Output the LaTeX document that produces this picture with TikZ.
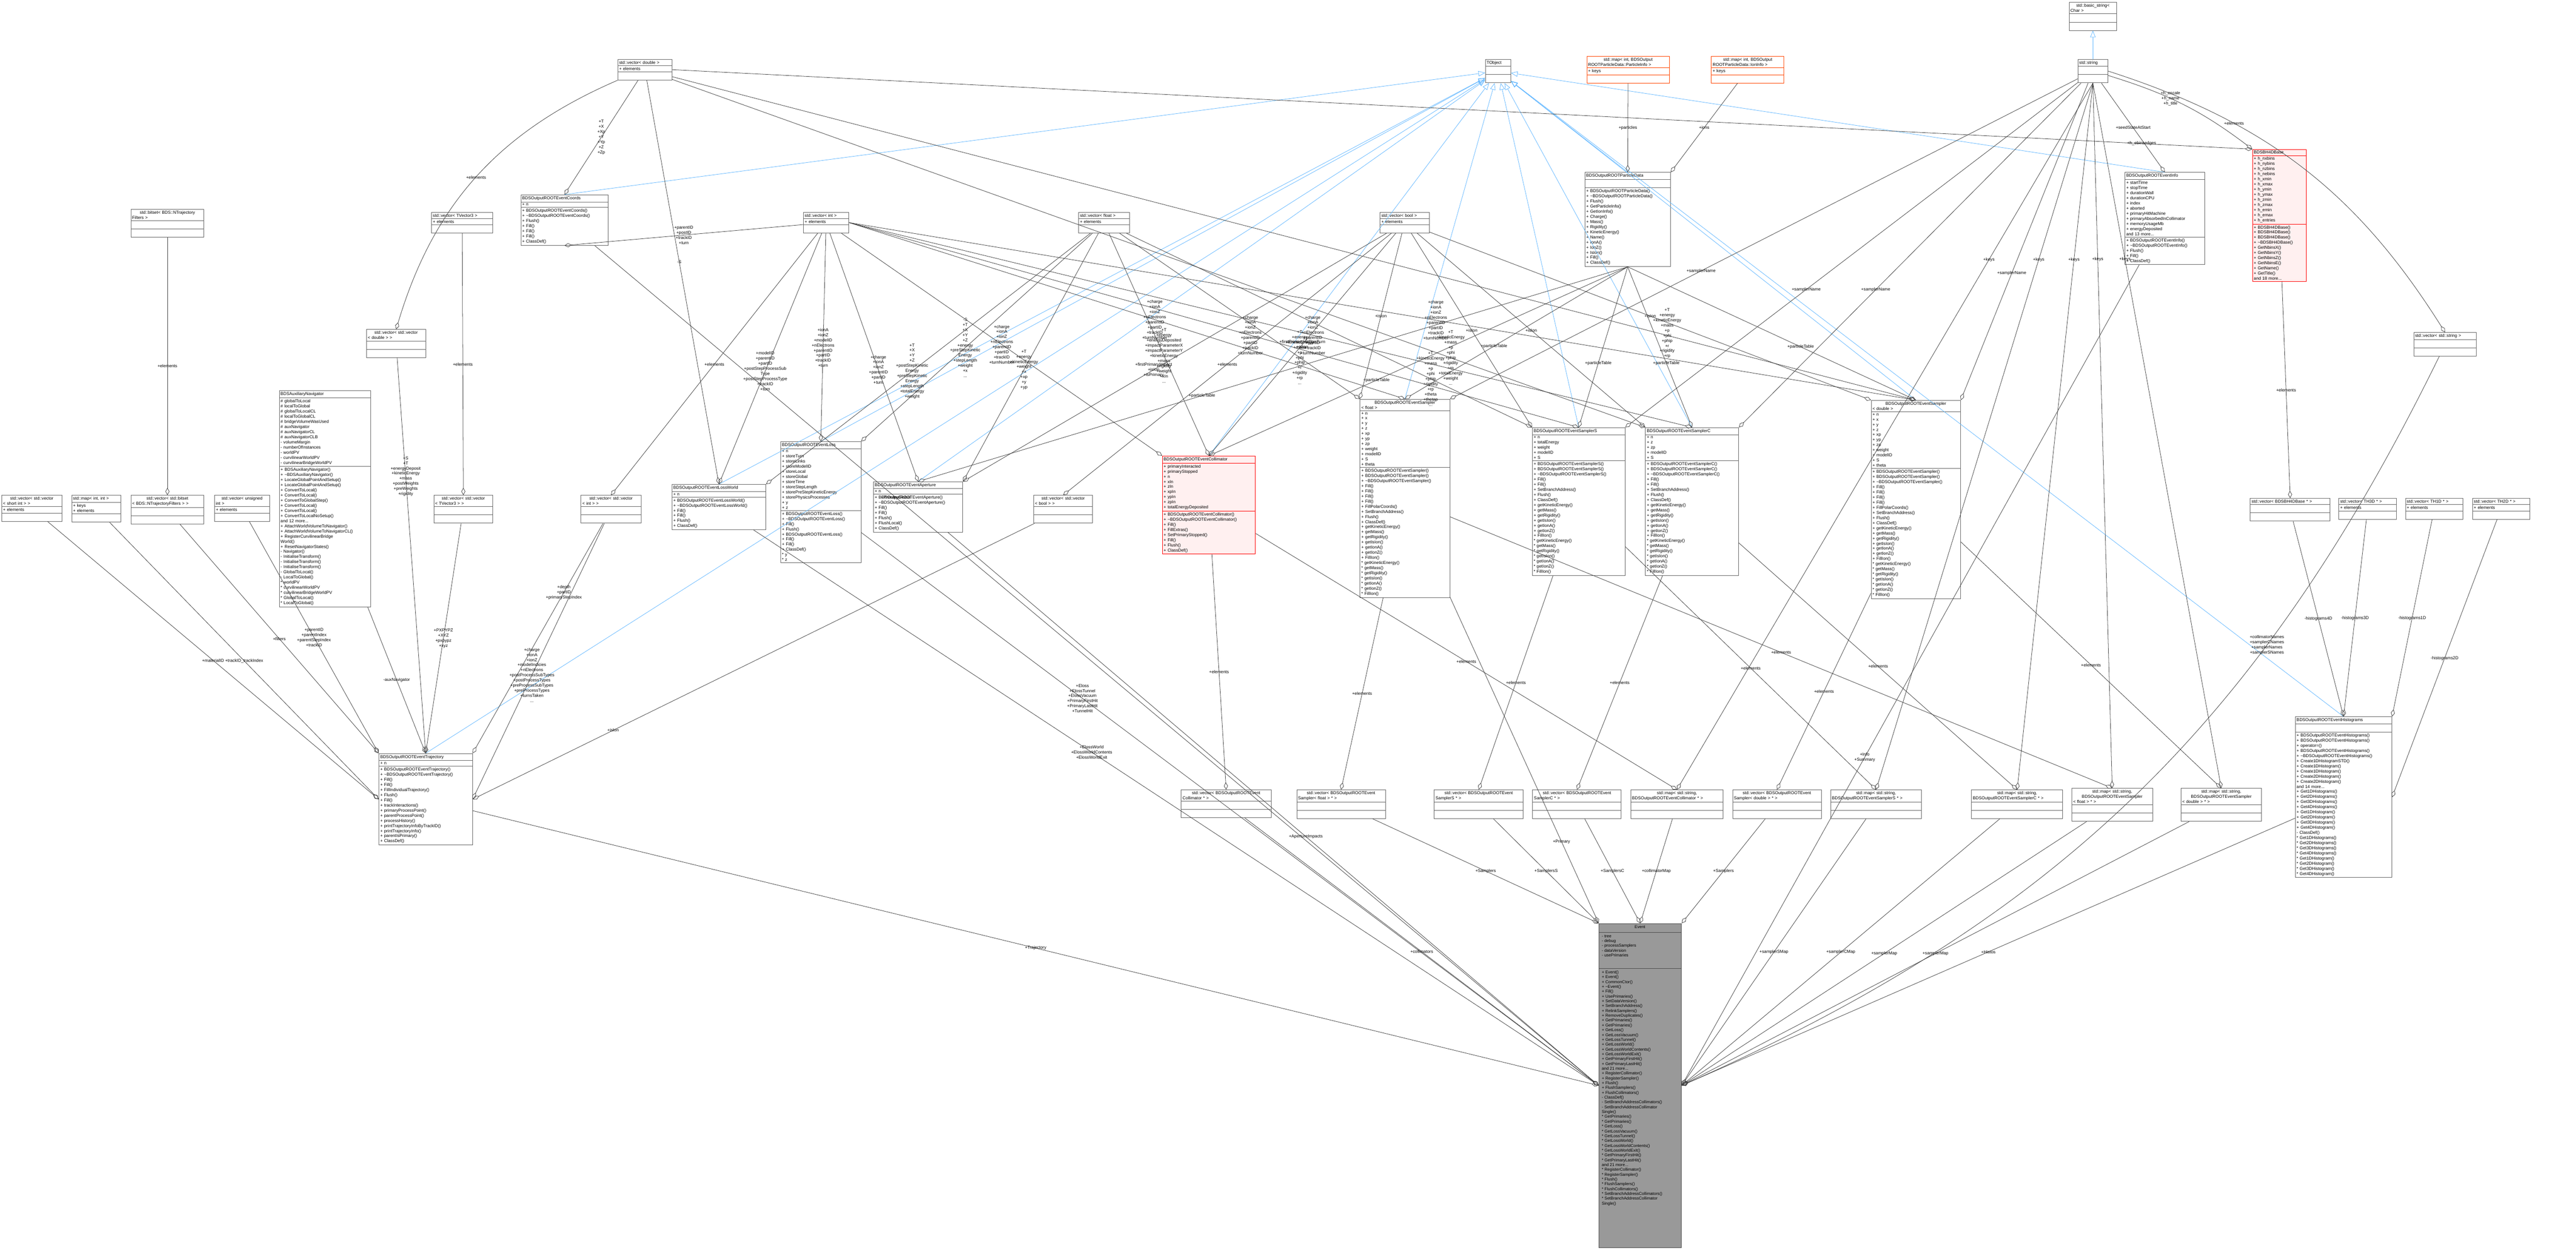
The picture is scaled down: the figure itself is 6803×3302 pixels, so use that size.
\documentclass[tikz,border=0pt]{standalone}
\usepackage{fontspec}
\setmainfont{Liberation Sans}
\usetikzlibrary{shapes.multipart,arrows.meta}
\definecolor{inh}{HTML}{63B8FF}
\definecolor{redb}{HTML}{FF0000}
\definecolor{redf}{HTML}{FFF0F0}
\definecolor{orb}{HTML}{FF4500}
\definecolor{evf}{HTML}{999999}
\newcommand\emp{\mbox{}\\\mbox{}}
\newcommand\tl{\textasciitilde}
\newcommand\cl[8]{\node[cbox,anchor=north west,#8,text width=\dimexpr0.1mm*#4-2pt\relax] (#1) at (#2,#3) {\centering #5\nodepart{two}\raggedright #6\nodepart{three}\raggedright #7};}
\tikzset{
 cbox/.style={rectangle split,rectangle split parts=3,draw=black!60,line width=0.35pt,fill=white,inner sep=1pt,align=left,font=\fontsize{3.2}{3.85}\selectfont},
 redc/.style={draw=redb,fill=redf},
 orc/.style={draw=orb},
 plain/.style={},
 evtxt/.style={anchor=north west,inner sep=1pt,align=left,font=\fontsize{3.1}{3.62}\selectfont},
 agg/.style={draw=black!75,line width=0.3pt,-{Diamond[open,length=5.5pt,width=3pt]}},
 inhe/.style={draw=inh,line width=0.3pt,-{Triangle[open,length=5pt,width=4pt]}},
 lbl/.style={font=\fontsize{3.2}{3.85}\selectfont,align=center,inner sep=0.5pt,fill=none},
}
\begin{document}
\begin{tikzpicture}[x=0.1mm,y=-0.1mm]
\fill[white] (0,0) rectangle (6803,3302);
\useasboundingbox (0,0) rectangle (6803,3302);
% top row
\cl{vecdouble}{1631}{156}{143}{std::vector< double >}{+ elements}{\emp}{plain}
\cl{tobject}{3922}{156}{67}{TObject}{\emp}{\emp}{plain}
\cl{mapPI}{4190}{148}{218}{std::map< int, BDSOutput\\ROOTParticleData::ParticleInfo >}{+ keys}{\emp}{orc}
\cl{mapII}{4519}{148}{192}{std::map< int, BDSOutput\\ROOTParticleData::IonInfo >}{+ keys}{\emp}{orc}
\cl{basicstr}{5464}{6}{125}{std::basic\_string<\\ Char >}{\emp}{\emp}{plain}
\cl{string}{5487}{156}{79}{std::string}{\emp}{\emp}{plain}
\cl{coords}{1375}{514}{230}{BDSOutputROOTEventCoords}{+ n}{+ BDSOutputROOTEventCoords()\\+ \tl BDSOutputROOTEventCoords()\\+ Flush()\\+ Fill()\\+ Fill()\\+ Fill()\\+ ClassDef()}{plain}
\cl{bitset}{345}{552}{193}{std::bitset< BDS::NTrajectory\\Filters >}{\emp}{\emp}{plain}
\cl{vecTV}{1139}{560}{162}{std::vector< TVector3 >}{+ elements}{\emp}{plain}
\cl{vecint}{2121}{560}{120}{std::vector< int >}{+ elements}{\emp}{plain}
\cl{vecfloat}{2848}{560}{135}{std::vector< float >}{+ elements}{\emp}{plain}
\cl{vecbool}{3644}{560}{130}{std::vector< bool >}{+ elements}{\emp}{plain}
\cl{pdata}{4185}{455}{226}{BDSOutputROOTParticleData}{\emp}{+ BDSOutputROOTParticleData()\\+ \tl BDSOutputROOTParticleData()\\+ Flush()\\+ GetParticleInfo()\\+ GetIonInfo()\\+ Charge()\\+ Mass()\\+ Rigidity()\\+ KineticEnergy()\\+ Name()\\+ IonA()\\+ IonZ()\\+ IsIon()\\+ Fill()\\+ ClassDef()}{plain}
\cl{einfo}{5611}{455}{211}{BDSOutputROOTEventInfo}{+ startTime\\+ stopTime\\+ durationWall\\+ durationCPU\\+ index\\+ aborted\\+ primaryHitMachine\\+ primaryAbsorbedInCollimator\\+ memoryUsageMb\\+ energyDeposited\\and 13 more...}{+ BDSOutputROOTEventInfo()\\+ \tl BDSOutputROOTEventInfo()\\+ Flush()\\+ Fill()\\+ ClassDef()}{plain}
\cl{bh}{5948}{394}{142}{BDSBH4DBase}{+ h\_nxbins\\+ h\_nybins\\+ h\_nzbins\\+ h\_nebins\\+ h\_xmin\\+ h\_xmax\\+ h\_ymin\\+ h\_ymax\\+ h\_zmin\\+ h\_zmax\\+ h\_emin\\+ h\_emax\\+ h\_entries}{+ BDSBH4DBase()\\+ BDSBH4DBase()\\+ BDSBH4DBase()\\+ \tl BDSBH4DBase()\\+ GetNbinsX()\\+ GetNbinsY()\\+ GetNbinsZ()\\+ GetNbinsE()\\+ GetName()\\+ GetTitle()\\and 18 more...}{redc}
\cl{vecstr}{6374}{878}{165}{std::vector< std::string >}{\emp}{\emp}{plain}
\cl{vvdouble}{967}{870}{157}{std::vector< std::vector\\< double > >}{\emp}{\emp}{plain}
\cl{aux}{737}{1032}{241}{BDSAuxiliaryNavigator}{\# globalToLocal\\\# localToGlobal\\\# globalToLocalCL\\\# localToGlobalCL\\\# bridgeVolumeWasUsed\\\# auxNavigator\\\# auxNavigatorCL\\\# auxNavigatorCLB\\- volumeMargin\\- numberOfInstances\\- worldPV\\- curvilinearWorldPV\\- curvilinearBridgeWorldPV}{+ BDSAuxiliaryNavigator()\\+ \tl BDSAuxiliaryNavigator()\\+ LocateGlobalPointAndSetup()\\+ LocateGlobalPointAndSetup()\\+ ConvertToLocal()\\+ ConvertToLocal()\\+ ConvertToGlobalStep()\\+ ConvertToLocal()\\+ ConvertToLocal()\\+ ConvertToLocalNoSetup()\\and 12 more...\\+ AttachWorldVolumeToNavigator()\\+ AttachWorldVolumeToNavigatorCL()\\+ RegisterCurvilinearBridge\\World()\\+ ResetNavigatorStates()\\- Navigator()\\- InitialiseTransform()\\- InitialiseTransform()\\- InitialiseTransform()\\- GlobalToLocal()\\- LocalToGlobal()\\{*} worldPV\\{*} curvilinearWorldPV\\{*} curvilinearBridgeWorldPV\\{*} GlobalToLocal()\\{*} LocalToGlobal()}{plain}
\cl{vvshort}{4}{1308}{159}{std::vector< std::vector\\< short int > >}{+ elements}{\emp}{plain}
\cl{mapii}{189}{1308}{130}{std::map< int, int >}{+ keys\\+ elements}{\emp}{plain}
\cl{vbitset}{345}{1308}{193}{std::vector< std::bitset\\< BDS::NTrajectoryFilters > >}{\emp}{\emp}{plain}
\cl{vuint}{566}{1308}{145}{std::vector< unsigned\\ int >}{+ elements}{\emp}{plain}
\cl{vvTV}{1145}{1308}{156}{std::vector< std::vector\\< TVector3 > >}{\emp}{\emp}{plain}
\cl{vvint}{1534}{1308}{158}{std::vector< std::vector\\< int > >}{\emp}{\emp}{plain}
\cl{lossw}{1774}{1279}{248}{BDSOutputROOTEventLossWorld}{+ n}{+ BDSOutputROOTEventLossWorld()\\+ \tl BDSOutputROOTEventLossWorld()\\+ Fill()\\+ Fill()\\+ Flush()\\+ ClassDef()}{plain}
\cl{loss}{2061}{1166}{212}{BDSOutputROOTEventLoss}{+ n\\+ storeTurn\\+ storeLinks\\+ storeModelID\\+ storeLocal\\+ storeGlobal\\+ storeTime\\+ storeStepLength\\+ storePreStepKineticEnergy\\+ storePhysicsProcesses\\+ y\\+ z}{+ BDSOutputROOTEventLoss()\\+ \tl BDSOutputROOTEventLoss()\\+ Fill()\\+ Flush()\\+ BDSOutputROOTEventLoss()\\+ Fill()\\+ Fill()\\+ ClassDef()\\{*} y\\{*} z}{plain}
\cl{aper}{2306}{1272}{236}{BDSOutputROOTEventAperture}{+ n}{+ BDSOutputROOTEventAperture()\\+ \tl BDSOutputROOTEventAperture()\\+ Fill()\\+ Fill()\\+ Flush()\\+ FlushLocal()\\+ ClassDef()}{plain}
\cl{vvbool}{2729}{1308}{156}{std::vector< std::vector\\< bool > >}{\emp}{\emp}{plain}
\cl{coll}{3069}{1204}{246}{BDSOutputROOTEventCollimator}{+ primaryInteracted\\+ primaryStopped\\+ n\\+ xIn\\+ zIn\\+ xpIn\\+ ypIn\\+ zpIn\\+ totalEnergyDeposited}{+ BDSOutputROOTEventCollimator()\\+ \tl BDSOutputROOTEventCollimator()\\+ Fill()\\+ FillExtras()\\+ SetPrimaryStopped()\\+ Fill()\\+ Flush()\\+ ClassDef()}{redc}
\newcommand\smeth{+ BDSOutputROOTEventSampler()\\+ BDSOutputROOTEventSampler()\\+ \tl BDSOutputROOTEventSampler()\\+ Fill()\\+ Fill()\\+ Fill()\\+ Fill()\\+ FillPolarCoords()\\+ SetBranchAddress()\\+ Flush()\\+ ClassDef()\\+ getKineticEnergy()\\+ getMass()\\+ getRigidity()\\+ getIsIon()\\+ getIonA()\\+ getIonZ()\\+ FillIon()\\{*} getKineticEnergy()\\{*} getMass()\\{*} getRigidity()\\{*} getIsIon()\\{*} getIonA()\\{*} getIonZ()\\{*} FillIon()}
\newcommand\sattr{+ n\\+ x\\+ y\\+ z\\+ xp\\+ yp\\+ zp\\+ weight\\+ modelID\\+ S\\+ theta}
\newcommand\scmeth[1]{+ BDSOutputROOTEventSampler#1()\\+ BDSOutputROOTEventSampler#1()\\+ \tl BDSOutputROOTEventSampler#1()\\+ Fill()\\+ Fill()\\+ SetBranchAddress()\\+ Flush()\\+ ClassDef()\\+ getKineticEnergy()\\+ getMass()\\+ getRigidity()\\+ getIsIon()\\+ getIonA()\\+ getIonZ()\\+ FillIon()\\{*} getKineticEnergy()\\{*} getMass()\\{*} getRigidity()\\{*} getIsIon()\\{*} getIonA()\\{*} getIonZ()\\{*} FillIon()}
\cl{sf}{3591}{1054}{237}{BDSOutputROOTEventSampler\\< float >}{\sattr}{\smeth}{plain}
\cl{sS}{4046}{1129}{245}{BDSOutputROOTEventSamplerS}{+ n\\+ totalEnergy\\+ weight\\+ modelID\\+ S}{\scmeth{S}}{plain}
\cl{sC}{4345}{1129}{246}{BDSOutputROOTEventSamplerC}{+ n\\+ z\\+ zp\\+ modelID\\+ S}{\scmeth{C}}{plain}
\cl{sd}{4941}{1057}{236}{BDSOutputROOTEventSampler\\< double >}{\sattr}{\smeth}{plain}
\cl{vbh}{5942}{1316}{211}{std::vector< BDSBH4DBase * >}{\emp}{\emp}{plain}
\cl{th3}{6176}{1316}{152}{std::vector< TH3D * >}{+ elements}{\emp}{plain}
\cl{th1}{6352}{1316}{152}{std::vector< TH1D * >}{+ elements}{\emp}{plain}
\cl{th2}{6529}{1316}{151}{std::vector< TH2D * >}{+ elements}{\emp}{plain}
\cl{traj}{1000}{1990}{247}{BDSOutputROOTEventTrajectory}{+ n}{+ BDSOutputROOTEventTrajectory()\\+ \tl BDSOutputROOTEventTrajectory()\\+ Fill()\\+ Fill()\\+ FillIndividualTrajectory()\\+ Flush()\\+ Fill()\\+ trackInteractions()\\+ primaryProcessPoint()\\+ parentProcessPoint()\\+ processHistory()\\+ printTrajectoryInfoByTrackID()\\+ printTrajectoryInfo()\\+ parentIsPrimary()\\+ ClassDef()}{plain}
\cl{vcoll}{3119}{2086}{237}{std::vector< BDSOutputROOTEvent\\Collimator * >}{\emp}{\emp}{plain}
\cl{vsf}{3424}{2086}{234}{std::vector< BDSOutputROOTEvent\\Sampler< float > * >}{\emp}{\emp}{plain}
\cl{vsS}{3787}{2086}{235}{std::vector< BDSOutputROOTEvent\\SamplerS * >}{\emp}{\emp}{plain}
\cl{vsC}{4047}{2086}{234}{std::vector< BDSOutputROOTEvent\\SamplerC * >}{\emp}{\emp}{plain}
\cl{mcoll}{4306}{2086}{244}{std::map< std::string,\\BDSOutputROOTEventCollimator * >}{\emp}{\emp}{plain}
\cl{vsd}{4575}{2086}{234}{std::vector< BDSOutputROOTEvent\\Sampler< double > * >}{\emp}{\emp}{plain}
\cl{msS}{4834}{2086}{240}{std::map< std::string,\\BDSOutputROOTEventSamplerS * >}{\emp}{\emp}{plain}
\cl{msC}{5206}{2086}{241}{std::map< std::string,\\BDSOutputROOTEventSamplerC * >}{\emp}{\emp}{plain}
\cl{msf}{5471}{2082}{213}{std::map< std::string,\\BDSOutputROOTEventSampler\\< float > * >}{\emp}{\emp}{plain}
\cl{msd}{5759}{2082}{213}{std::map< std::string,\\BDSOutputROOTEventSampler\\< double > * >}{\emp}{\emp}{plain}
\cl{histos}{6061}{1893}{255}{BDSOutputROOTEventHistograms}{\emp}{+ BDSOutputROOTEventHistograms()\\+ BDSOutputROOTEventHistograms()\\+ operator=()\\+ BDSOutputROOTEventHistograms()\\+ \tl BDSOutputROOTEventHistograms()\\+ Create1DHistogramSTD()\\+ Create1DHistogram()\\+ Create1DHistogram()\\+ Create2DHistogram()\\+ Create2DHistogram()\\and 14 more...\\+ Get1DHistograms()\\+ Get2DHistograms()\\+ Get3DHistograms()\\+ Get4DHistograms()\\+ Get1DHistogram()\\+ Get2DHistogram()\\+ Get3DHistogram()\\+ Get4DHistogram()\\- ClassDef()\\{*} Get1DHistograms()\\{*} Get2DHistograms()\\{*} Get3DHistograms()\\{*} Get4DHistograms()\\{*} Get1DHistogram()\\{*} Get2DHistogram()\\{*} Get3DHistogram()\\{*} Get4DHistogram()}{plain}
% Event, drawn as a fixed box
\node[draw=black!70,fill=evf,line width=0.35pt,inner sep=0pt,anchor=north west,minimum width=21.8mm,minimum height=85.6mm] (event) at (4222,2439) {};
\draw[black!70,line width=0.35pt] (4222,2463) -- (4440,2463) (4222,2558) -- (4440,2558);
\node[evtxt,anchor=north] (evtitle) at (4331,2441) {Event};
\node[evtxt] (evattr) at (4226,2465) {- tree\\- debug\\- processSamplers\\- dataVersion\\- usePrimaries};
\node[evtxt] (evmeth) at (4226,2560) {+ Event()\\+ Event()\\+ CommonCtor()\\+ \tl Event()\\+ Fill()\\+ UsePrimaries()\\+ SetDataVersion()\\+ SetBranchAddress()\\+ RelinkSamplers()\\+ RemoveDuplicates()\\+ GetPrimaries()\\+ GetPrimaries()\\+ GetLoss()\\+ GetLossVacuum()\\+ GetLossTunnel()\\+ GetLossWorld()\\+ GetLossWorldContents()\\+ GetLossWorldExit()\\+ GetPrimaryFirstHit()\\+ GetPrimaryLastHit()\\and 21 more...\\+ RegisterCollimator()\\+ RegisterSampler()\\+ Flush()\\+ FlushSamplers()\\+ FlushCollimators()\\- ClassDef()\\- SetBranchAddressCollimators()\\- SetBranchAddressCollimator\\Single()\\{*} GetPrimaries()\\{*} GetPrimaries()\\{*} GetLoss()\\{*} GetLossVacuum()\\{*} GetLossTunnel()\\{*} GetLossWorld()\\{*} GetLossWorldContents()\\{*} GetLossWorldExit()\\{*} GetPrimaryFirstHit()\\{*} GetPrimaryLastHit()\\and 21 more...\\{*} RegisterCollimator()\\{*} RegisterSampler()\\{*} Flush()\\{*} FlushSamplers()\\{*} FlushCollimators()\\{*} SetBranchAddressCollimators()\\{*} SetBranchAddressCollimator\\Single()};
% inheritance
\draw[inhe] (string) -- (basicstr);
\foreach \c in {coords,traj,lossw,loss,aper,coll,sf,sS,sC,sd,pdata,einfo,histos}
  \draw[inhe] (\c.north) -- (tobject);
% std::string usage
\draw[agg] (string) to[bend left=10] node[lbl,pos=0.4]{+h\_escale\\+h\_name\\+h\_title} (bh.north west);
\draw[agg] (string) -- node[lbl]{+seedStateAtStart} (einfo.north);
\draw[agg] (string.east) to[bend left=20] node[lbl,pos=0.3]{+elements} (vecstr.north);
\foreach \m in {sf,sS,sC,sd} \draw[agg] (string) -- node[lbl,pos=0.6]{+samplerName} (\m.north east);
\foreach \m in {mcoll,msS,msC,msf,msd} \draw[agg] (string.south) -- node[lbl,pos=0.25]{+keys} (\m.north);
% particle data
\draw[agg] (mapPI) -- node[lbl]{+particles} (pdata.north);
\draw[agg] (mapII) -- node[lbl]{+ions} (pdata.north east);
\foreach \m in {sf,sS,sC,sd,aper,coll} \draw[agg] (pdata.south) -- node[lbl,pos=0.6]{+particleTable} (\m.north);
% vector double
\draw[agg] (vecdouble) -- node[lbl]{+T\\+X\\+Xp\\+Y\\+Yp\\+Z\\+Zp} (coords.north);
\draw[agg] (vecdouble) to[bend right=25] node[lbl]{+elements} (vvdouble.north);
\draw[agg] (vecdouble.east) -- node[lbl,pos=0.93]{+h\_ebinsedges} (bh.north west);
\draw[agg] (vecdouble) -- node[lbl,pos=0.8]{+T\\+energy\\+kineticEnergy\\+mass\\+p\\+phi\\+phip\\+r\\+rigidity\\+rp\\...} (sd.north);
\draw[agg] (vecdouble) -- node[lbl,pos=0.8]{+T\\+kineticEnergy\\+mass\\+p\\+phi\\+phip\\+rigidity\\+rp\\+totalEnergy\\+weight\\...} (sC.north west);
\draw[agg] (vecdouble) -- node[lbl,pos=0.45]{-S} (lossw.north);
% vector float
\draw[agg] (vecfloat) -- node[lbl,pos=0.75]{+T\\+energy\\+kineticEnergy\\+mass\\+p\\+phi\\+phip\\+r\\+rigidity\\+rp\\...} (sf.north west);
\draw[agg] (vecfloat) -- node[lbl,pos=0.75]{+T\\+kineticEnergy\\+mass\\+p\\+phi\\+phip\\+rigidity\\+rp\\+theta\\+thetap\\...} (sS.north west);
\draw[agg] (vecfloat) -- node[lbl,pos=0.55]{+T\\+energy\\+energyDeposited\\+impactParameterX\\+impactParameterY\\+kineticEnergy\\+mass\\+rigidity\\+weight\\+xIn\\...} (coll.north);
\draw[agg] (vecfloat) -- node[lbl,pos=0.55]{+T\\+energy\\+kineticEnergy\\+weight\\+x\\+xp\\+y\\+yp} (aper.north east);
\draw[agg] (vecfloat) -- node[lbl,pos=0.55]{-S\\+T\\+X\\+Y\\+Z\\+energy\\+preStepKinetic\\Energy\\+stepLength\\+weight\\+x\\...} (loss.north east);
\draw[agg] (vecfloat) -- node[lbl,pos=0.55]{+T\\+X\\+Y\\+Z\\+postStepKinetic\\Energy\\+preStepKinetic\\Energy\\+stepLength\\+totalEnergy\\+weight} (lossw.north east);
% vector int
\draw[agg] (vecint) -- node[lbl,pos=0.55]{+modelID\\+parentID\\+partID\\+postStepProcessSub\\Type\\+postStepProcessType\\+trackID\\+turn} (lossw.north);
\draw[agg] (vecint) -- node[lbl,pos=0.55]{+ionA\\+ionZ\\+modelID\\+nElectrons\\+parentID\\+partID\\+trackID\\+turn} (loss.north);
\draw[agg] (vecint) -- node[lbl,pos=0.55]{+charge\\+ionA\\+ionZ\\+parentID\\+partID\\+turn} (aper.north);
\draw[agg] (vecint) -- node[lbl,pos=0.5]{+charge\\+ionA\\+ionZ\\+nElectrons\\+parentID\\+partID\\+trackID\\+turnNumber} (coll.north west);
\foreach \m in {sf,sS,sC,sd} \draw[agg] (vecint.east) -- node[lbl,pos=0.55]{+charge\\+ionA\\+ionZ\\+nElectrons\\+parentID\\+partID\\+trackID\\+turnNumber} (\m.north);
\draw[agg] (vecint) -- node[lbl,pos=0.5]{+elements} (vvint.north);
\draw[agg] (vecint) -- node[lbl,pos=0.5]{+parentID\\+postID\\+trackID\\+turn} (coords.south);
% vector bool
\draw[agg] (vecbool) -- node[lbl,pos=0.5]{+elements} (vvbool.north);
\draw[agg] (vecbool) -- node[lbl,pos=0.55]{+firstPrimaryImpact\\+isIon\\+isPrimary} (aper.north east);
\draw[agg] (vecbool) -- node[lbl,pos=0.5]{+firstPrimaryHitThisTurn\\+isIon} (coll.north);
\foreach \m in {sf,sS,sC,sd} \draw[agg] (vecbool) -- node[lbl,pos=0.5]{+isIon} (\m.north west);
% trajectory members
\draw[agg] (bitset) -- node[lbl]{+elements} (vbitset.north);
\draw[agg] (vecTV) -- node[lbl]{+elements} (vvTV.north);
\draw[agg] (vvshort) -- node[lbl]{+materialID} (traj.west);
\draw[agg] (mapii) -- node[lbl]{+trackID\_trackIndex} (traj.west);
\draw[agg] (vbitset) -- node[lbl]{+filters} (traj.north west);
\draw[agg] (vuint) -- node[lbl]{+parentID\\+parentIndex\\+parentStepIndex\\+trackID} (traj.north west);
\draw[agg] (aux) -- node[lbl]{-auxNavigator} (traj.north);
\draw[agg] (vvdouble) -- node[lbl,pos=0.3]{+S\\+T\\+energyDeposit\\+kineticEnergy\\+mass\\+postWeights\\+preWeights\\+rigidity} (traj.north);
\draw[agg] (vvTV) -- node[lbl]{+PXPYPZ\\+XYZ\\+pxpypz\\+xyz} (traj.north);
\draw[agg] (vvint) -- node[lbl,pos=0.3]{+depth\\+partID\\+primaryStepIndex} (traj.north east);
\draw[agg] (vvint) -- node[lbl,pos=0.55]{+charge\\+ionA\\+ionZ\\+modelIndicies\\+nElectrons\\+postProcessSubTypes\\+postProcessTypes\\+preProcessSubTypes\\+preProcessTypes\\+turnsTaken\\...} (traj.east);
\draw[agg] (vvbool) -- node[lbl,pos=0.75]{+isIon} (traj.east);
% collections
\draw[agg] (coll) -- node[lbl]{+elements} (vcoll.north);
\draw[agg] (coll) -- node[lbl]{+elements} (mcoll.north);
\draw[agg] (sf) -- node[lbl]{+elements} (vsf.north);
\draw[agg] (sf) -- node[lbl]{+elements} (msf.north);
\draw[agg] (sS) -- node[lbl]{+elements} (vsS.north);
\draw[agg] (sS) -- node[lbl]{+elements} (msS.north);
\draw[agg] (sC) -- node[lbl]{+elements} (vsC.north);
\draw[agg] (sC) -- node[lbl]{+elements} (msC.north);
\draw[agg] (sd) -- node[lbl]{+elements} (vsd.north);
\draw[agg] (sd) -- node[lbl]{+elements} (msd.north);
\draw[agg] (bh) -- node[lbl]{+elements} (vbh.north);
\draw[agg] (vbh) -- node[lbl]{-histograms4D} (histos.north);
\draw[agg] (th3) -- node[lbl]{-histograms3D} (histos.north);
\draw[agg] (th1) -- node[lbl]{-histograms1D} (histos.north east);
\draw[agg] (th2) -- node[lbl]{-histograms2D} (histos.east);
% event
\draw[agg] (traj) -- node[lbl]{+Trajectory} (event.west);
\draw[agg] (coords) -- node[lbl,pos=0.3]{+PrimaryGlobal} (event.west);
\draw[agg] (lossw) -- node[lbl,pos=0.4]{+ElossWorld\\+ElossWorldContents\\+ElossWorldExit} (event.west);
\draw[agg] (loss) -- node[lbl,pos=0.3]{+Eloss\\+ElossTunnel\\+ElossVacuum\\+PrimaryFirstHit\\+PrimaryLastHit\\+TunnelHit} (event.west);
\draw[agg] (aper) -- node[lbl,pos=0.55]{+ApertureImpacts} (event.west);
\draw[agg] (vcoll) -- node[lbl]{+collimators} (event.west);
\draw[agg] (sf) -- node[lbl,pos=0.75]{+Primary} (event.north west);
\draw[agg] (vsf) -- node[lbl]{+Samplers} (event.north west);
\draw[agg] (vsS) -- node[lbl]{+SamplersS} (event.north west);
\draw[agg] (vsC) -- node[lbl]{+SamplersC} (event.north);
\draw[agg] (mcoll) -- node[lbl]{+collimatorMap} (event.north);
\draw[agg] (vsd) -- node[lbl]{+Samplers} (event.north east);
\draw[agg] (msS) -- node[lbl]{+samplerSMap} (event.east);
\draw[agg] (msC) -- node[lbl]{+samplerCMap} (event.east);
\draw[agg] (msf) -- node[lbl]{+samplerMap} (event.east);
\draw[agg] (msd) -- node[lbl]{+samplerMap} (event.east);
\draw[agg] (einfo) -- node[lbl,pos=0.6]{+Info\\+Summary} (event.east);
\draw[agg] (histos) -- node[lbl]{+Histos} (event.east);
\draw[agg] (vecstr) to[bend left=20] node[lbl,pos=0.3]{+collimatorNames\\+samplerCNames\\+samplerNames\\+samplerSNames} (event.east);
\end{tikzpicture}
\end{document}
